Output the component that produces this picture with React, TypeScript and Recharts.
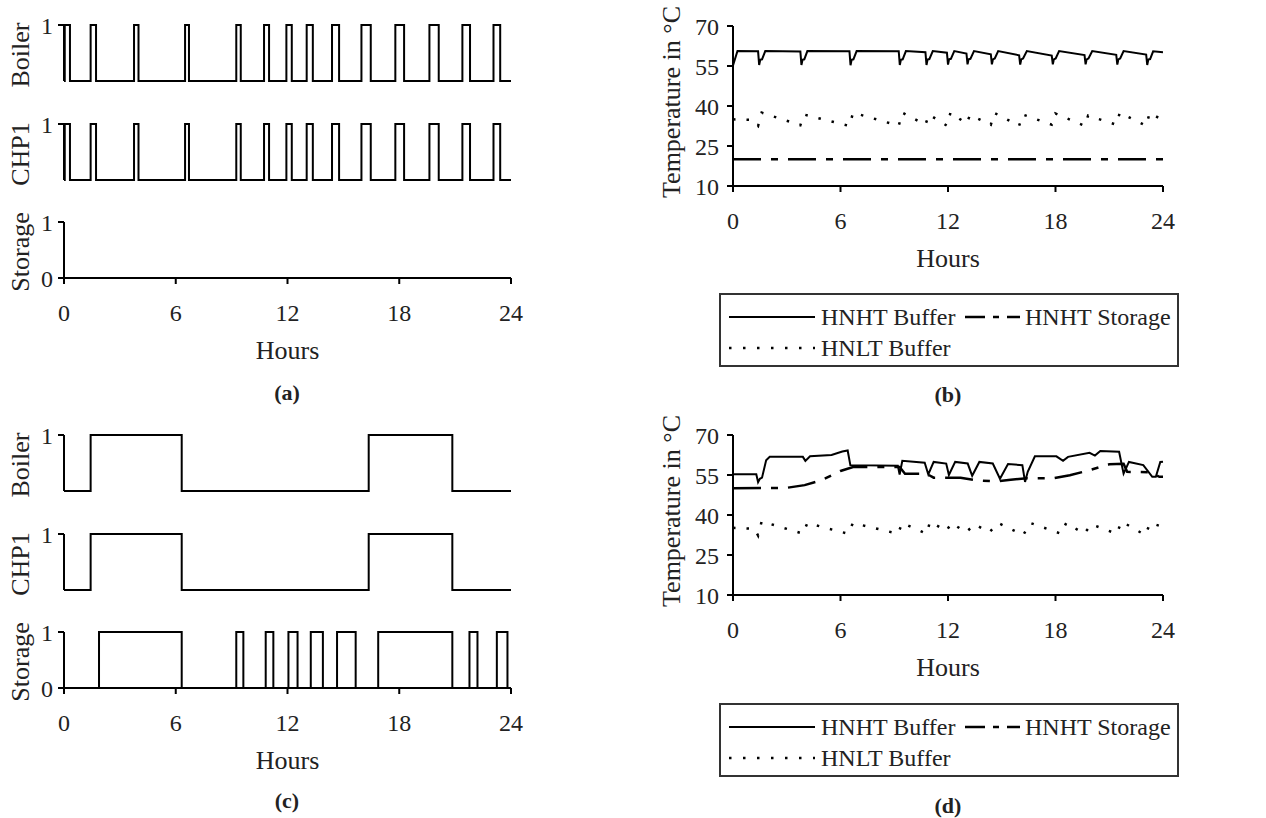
import React from "react";
import { LineChart, Line, XAxis, YAxis } from "recharts";

const FONT = "'Liberation Serif', 'Times New Roman', serif";
const INK = "#222";
const LINE = "#000";

const hourTicks = [0, 6, 12, 18, 24];
const tempTicks = [10, 25, 40, 55, 70];
const stateTicks = [0, 1];
const rowNames = ["Boiler", "CHP1", "Storage"];
const seriesNames = ["HNHT Buffer", "HNHT Storage", "HNLT Buffer"];
const captions = ["(a)", "(b)", "(c)", "(d)"];

// on periods [start, end] in hours
const boilerOnA = [[0.04, 0.32], [1.43, 1.72], [3.76, 4.0], [6.5, 6.71], [9.25, 9.49], [10.74, 11.01], [11.94, 12.23], [13.03, 13.36], [14.39, 14.77], [15.97, 16.47], [17.79, 18.26], [19.62, 20.12], [21.39, 21.8], [23.06, 23.42]];
const chp1OnA = [[0.04, 0.32], [1.43, 1.72], [3.76, 4.0], [6.5, 6.71], [9.25, 9.49], [10.74, 11.01], [11.94, 12.23], [13.03, 13.36], [14.39, 14.77], [15.97, 16.47], [17.79, 18.26], [19.62, 20.12], [21.39, 21.8], [23.06, 23.42]];
const storageOnA: number[][] = [];

const boilerOnC = [[1.43, 6.32], [16.36, 20.85]];
const chp1OnC = [[1.43, 6.32], [16.36, 20.85]];
const storageOnC = [[1.88, 6.32], [9.25, 9.63], [10.83, 11.24], [12.05, 12.54], [13.25, 13.9], [14.66, 15.66], [16.87, 20.85], [21.77, 22.2], [23.24, 23.81]];

// (b) temperatures
const bufHoursB = [0, 0.25, 1.4, 1.46, 1.52, 1.62, 1.8, 3.76, 3.82, 3.88, 3.98, 4.15, 6.5, 6.56, 6.62, 6.72, 6.9, 9.25, 9.31, 9.37, 9.47, 9.65, 10.74, 10.8, 10.86, 10.96, 11.15, 11.94, 12.0, 12.06, 12.16, 12.35, 13.03, 13.09, 13.15, 13.25, 13.45, 14.39, 14.45, 14.51, 14.61, 14.8, 15.97, 16.03, 16.09, 16.19, 16.4, 17.79, 17.85, 17.91, 18.01, 18.2, 19.62, 19.68, 19.74, 19.84, 20.05, 21.39, 21.45, 21.51, 21.61, 21.8, 23.06, 23.12, 23.18, 23.28, 23.45, 24];
const bufTempB = [55.2, 60.6, 60.5, 55.4, 57.3, 57.5, 60.6, 60.4, 55.4, 57.3, 57.5, 60.6, 60.5, 55.3, 57.3, 57.5, 60.6, 60.5, 55.4, 57.3, 57.5, 60.6, 60.2, 55.4, 57.4, 57.6, 60.6, 60.0, 55.5, 57.5, 57.7, 60.6, 59.7, 55.6, 57.5, 57.7, 60.6, 59.4, 55.6, 57.5, 57.8, 60.6, 59.0, 55.5, 57.5, 57.8, 60.6, 58.9, 55.6, 57.5, 57.8, 60.6, 59.1, 55.6, 57.5, 57.8, 60.6, 59.2, 55.5, 57.5, 57.8, 60.6, 59.3, 55.4, 57.4, 57.6, 60.5, 60.2];
const stoHoursB = [0, 24];
const stoTempB = [20, 20];
const ltHoursB = [0, 1.0, 1.4, 1.6, 3.76, 3.96, 6.5, 6.7, 9.25, 9.45, 10.74, 10.94, 11.94, 12.14, 13.03, 13.23, 14.39, 14.59, 15.97, 16.17, 17.79, 17.99, 19.62, 19.82, 21.39, 21.59, 23.06, 23.26, 24];
const ltTempB = [35, 34.8, 32.5, 37.5, 32.8, 36.8, 32.5, 37.5, 32.6, 37.5, 33.0, 36.8, 32.6, 37.5, 33.4, 36.6, 33.0, 37.4, 32.6, 36.8, 33.0, 37.2, 32.6, 36.4, 33.0, 37.5, 32.6, 37.5, 34.6];

// (d) temperatures
const bufHoursD = [0, 1.3, 1.4, 1.5, 1.62, 1.85, 2.05, 3.9, 4.04, 4.3, 5.5, 6.1, 6.4, 6.55, 9.2, 9.3, 9.45, 10.7, 10.9, 11.2, 11.9, 12.05, 12.4, 13.1, 13.35, 13.75, 14.5, 14.9, 15.35, 16.15, 16.3, 16.45, 16.85, 18.05, 18.42, 18.7, 19.9, 20.2, 20.5, 21.55, 21.8, 22.1, 22.9, 23.4, 23.6, 23.85, 24];
const bufTempD = [55.3, 55.3, 52.3, 53.6, 54.0, 60.5, 61.8, 61.8, 60.3, 62.0, 62.5, 63.8, 64.2, 58.7, 58.5, 55.2, 60.3, 59.6, 55.2, 59.9, 59.3, 55.0, 59.9, 59.3, 54.7, 59.9, 59.3, 53.6, 59.1, 58.7, 52.4, 56.2, 62.0, 62.0, 60.3, 61.8, 63.3, 62.3, 64.0, 63.7, 55.5, 59.9, 58.7, 54.3, 54.3, 59.9, 60.0];
const stoHoursD = [0, 3.0, 4.0, 5.0, 6.0, 6.7, 9.3, 9.6, 10.8, 11.2, 12.7, 13.6, 14.7, 15.5, 16.4, 17.9, 18.8, 19.9, 21.0, 21.8, 22.0, 23.3, 23.8, 24];
const stoTempD = [50, 50.2, 51.2, 53.2, 56.5, 58.0, 58.0, 55.5, 55.5, 54.0, 54.0, 53.0, 52.6, 53.2, 53.8, 53.8, 54.9, 56.8, 59.0, 59.2, 56.2, 56.0, 54.3, 54.3];
const ltHoursD = [0, 1.2, 1.4, 1.6, 3.9, 4.15, 6.4, 6.7, 9.2, 9.45, 10.8, 11.0, 11.9, 12.2, 13.0, 13.5, 14.3, 14.8, 16.2, 16.6, 18.3, 18.6, 19.6, 20.0, 21.4, 21.7, 23.0, 23.3, 24];
const ltTempD = [35.2, 34.8, 32.3, 37.6, 33.0, 37.0, 33.0, 37.0, 33.0, 37.0, 33.0, 37.5, 34.0, 37.0, 33.5, 36.5, 33.5, 37.0, 32.5, 37.0, 33.0, 37.0, 33.0, 36.5, 33.0, 37.5, 32.5, 37.0, 35.5];

type Pt = { h: number; v: number };

const toSteps = (periods: number[][]): Pt[] => {
  const pts: Pt[] = [{ h: 0, v: 0 }];
  periods.forEach(([s, e]) => {
    pts.push({ h: s, v: 1 });
    pts.push({ h: e, v: 0 });
  });
  pts.push({ h: 24, v: 0 });
  return pts;
};

const zip = (hours: number[], temps: number[]): Pt[] => hours.map((h, i) => ({ h, v: temps[i] }));

const tickStyle = { fill: INK, fontSize: 24, fontFamily: FONT };
const axisStroke = { stroke: LINE, strokeWidth: 2 };

// label helpers, coordinates are local to the chart svg
const flatTitle = (text: string, x: number, y: number) => () => (
  <text x={x} y={y} textAnchor="middle" dominantBaseline="central" fill={INK} fontSize={26} fontFamily={FONT}>
    {text}
  </text>
);
const sideTitle = (text: string, x: number, y: number) => () => (
  <text x={x} y={y} textAnchor="middle" dominantBaseline="central" fill={INK} fontSize={26} fontFamily={FONT} transform={`rotate(-90 ${x} ${y})`}>
    {text}
  </text>
);

const STEP_LEFT = 64;
const STEP_RIGHT = 511;
const STEP_H = 56;

function StepRow({ periods, name, plotTop, withHours }: { periods: number[][]; name: string; plotTop: number; withHours?: boolean }) {
  const mt = 14;
  const axisH = withHours ? 100 : 0;
  const mb = withHours ? 0 : 12;
  return (
    <div style={{ position: "absolute", left: 0, top: plotTop - mt }}>
      <LineChart width={STEP_RIGHT + 22} height={mt + STEP_H + axisH + mb} data={toSteps(periods)} margin={{ top: mt, right: 22, bottom: mb, left: 0 }}>
        <XAxis
          type="number"
          dataKey="h"
          domain={[0, 24]}
          ticks={hourTicks}
          hide={!withHours}
          height={axisH}
          tickSize={6}
          tickMargin={20}
          tick={tickStyle}
          axisLine={axisStroke}
          tickLine={axisStroke}
          label={withHours ? flatTitle("Hours", (STEP_LEFT + STEP_RIGHT) / 2, mt + STEP_H + 72) : undefined}
        />
        <YAxis
          type="number"
          domain={[0, 1]}
          ticks={stateTicks}
          width={STEP_LEFT}
          tickSize={6}
          tickMargin={5}
          tick={tickStyle}
          axisLine={axisStroke}
          tickLine={axisStroke}
          label={sideTitle(name, 20, mt + STEP_H / 2 + 2)}
        />
        <Line type="stepAfter" dataKey="v" stroke={LINE} strokeWidth={2} dot={false} isAnimationActive={false} />
      </LineChart>
    </div>
  );
}

const TEMP_X = 640;
const TEMP_LEFT = 93;
const TEMP_W = 430;
const TEMP_H = 160;

function TempPanel({ top, buffer, storage, low }: { top: number; buffer: Pt[]; storage: Pt[]; low: Pt[] }) {
  const mt = 26;
  return (
    <div style={{ position: "absolute", left: TEMP_X, top }}>
      <LineChart width={TEMP_LEFT + TEMP_W + 24} height={mt + TEMP_H + 100} margin={{ top: mt, right: 24, bottom: 0, left: 0 }}>
        <XAxis
          type="number"
          dataKey="h"
          domain={[0, 24]}
          ticks={hourTicks}
          height={100}
          tickSize={6}
          tickMargin={20}
          tick={tickStyle}
          axisLine={axisStroke}
          tickLine={axisStroke}
          label={flatTitle("Hours", TEMP_LEFT + TEMP_W / 2, mt + TEMP_H + 72)}
        />
        <YAxis
          type="number"
          domain={[10, 70]}
          ticks={tempTicks}
          width={TEMP_LEFT}
          tickSize={6}
          tickMargin={8}
          tick={tickStyle}
          axisLine={axisStroke}
          tickLine={axisStroke}
          label={sideTitle("Temperature in °C", 31, mt + TEMP_H / 2 - 4)}
        />
        <Line data={buffer} dataKey="v" name={seriesNames[0]} stroke={LINE} strokeWidth={2} dot={false} isAnimationActive={false} />
        <Line data={storage} dataKey="v" name={seriesNames[1]} stroke={LINE} strokeWidth={2.5} strokeDasharray="28 10 7 10" dot={false} isAnimationActive={false} />
        <Line data={low} dataKey="v" name={seriesNames[2]} stroke={LINE} strokeWidth={2.5} strokeDasharray="2.5 11" dot={false} isAnimationActive={false} />
      </LineChart>
    </div>
  );
}

function LegendBox({ left, top }: { left: number; top: number }) {
  const txt = { fill: INK, fontSize: 24, fontFamily: FONT, dominantBaseline: "central" as const };
  return (
    <svg style={{ position: "absolute", left, top }} width={460} height={74}>
      <rect x={1} y={1} width={458} height={72} fill="#fff" stroke="#333" strokeWidth={2} />
      <line x1={10} x2={96} y1={24} y2={24} stroke={LINE} strokeWidth={2} />
      <text x={102} y={24} {...txt}>{seriesNames[0]}</text>
      <line x1={246} x2={301} y1={24} y2={24} stroke={LINE} strokeWidth={2.5} strokeDasharray="20 8 6 8" />
      <text x={306} y={24} {...txt}>{seriesNames[1]}</text>
      <line x1={10} x2={96} y1={55} y2={55} stroke={LINE} strokeWidth={2.5} strokeDasharray="2.5 11.5" />
      <text x={102} y={55} {...txt}>{seriesNames[2]}</text>
    </svg>
  );
}

function Caption({ text, cx, cy }: { text: string; cx: number; cy: number }) {
  return (
    <div style={{ position: "absolute", left: cx - 30, top: cy - 13, width: 60, textAlign: "center", fontFamily: FONT, fontWeight: "bold", fontSize: 22, lineHeight: "26px", color: INK }}>
      {text}
    </div>
  );
}

export default function App() {
  return (
    <div style={{ position: "absolute", left: 0, top: 0, width: 1266, height: 818, background: "#fff", overflow: "hidden" }}>
      <StepRow periods={boilerOnA} name={rowNames[0]} plotTop={25} />
      <StepRow periods={chp1OnA} name={rowNames[1]} plotTop={124} />
      <StepRow periods={storageOnA} name={rowNames[2]} plotTop={222} withHours />
      <Caption text={captions[0]} cx={287} cy={393} />

      <TempPanel top={0} buffer={zip(bufHoursB, bufTempB)} storage={zip(stoHoursB, stoTempB)} low={zip(ltHoursB, ltTempB)} />
      <LegendBox left={719} top={293} />
      <Caption text={captions[1]} cx={948} cy={395} />

      <StepRow periods={boilerOnC} name={rowNames[0]} plotTop={435} />
      <StepRow periods={chp1OnC} name={rowNames[1]} plotTop={534} />
      <StepRow periods={storageOnC} name={rowNames[2]} plotTop={632} withHours />
      <Caption text={captions[2]} cx={287} cy={801} />

      <TempPanel top={409} buffer={zip(bufHoursD, bufTempD)} storage={zip(stoHoursD, stoTempD)} low={zip(ltHoursD, ltTempD)} />
      <LegendBox left={719} top={703} />
      <Caption text={captions[3]} cx={948} cy={806} />
    </div>
  );
}
